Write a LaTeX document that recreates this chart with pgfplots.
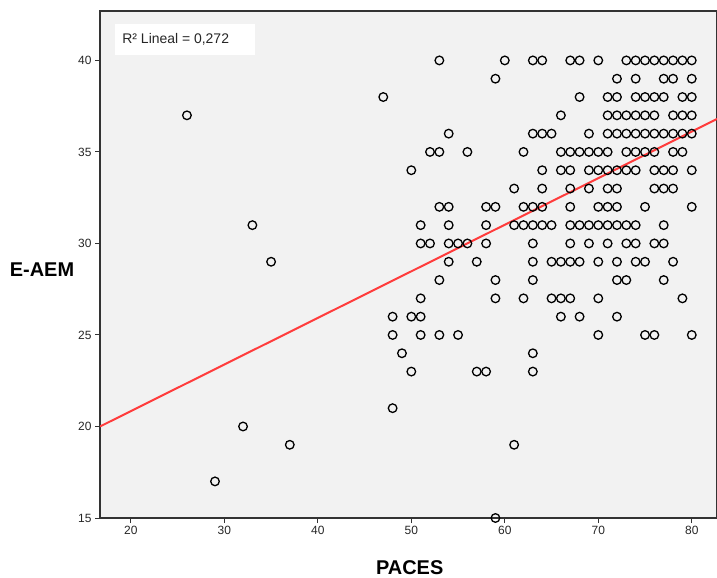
\documentclass[border=0pt]{standalone}
\usepackage{fontspec}
\setmainfont{Liberation Sans}
\usepackage{pgfplots}
\pgfplotsset{compat=1.18}

\definecolor{panelbg}{HTML}{F2F2F2}
\definecolor{fitred}{HTML}{FF3C3C}

\begin{document}
\begin{tikzpicture}
\begin{axis}[
    scale only axis,
    width=617bp, height=507bp,
    xmin=16.7, xmax=82.7,
    ymin=15, ymax=42.7,
    axis background/.style={fill=panelbg},
    axis line style={draw=black!80, line width=1.2bp},
    xtick={20,30,...,80},
    ytick={15,20,...,40},
    tick align=outside,
    tick pos=left,
    major tick length=5bp,
    tick style={draw=black!80, line width=1bp},
    ticklabel style={font=\fontsize{12}{14}\selectfont, text=black!85},
    /pgf/number format/assume math mode=true,
    xlabel={PACES},
    ylabel={E-AEM},
    label style={font=\fontsize{20}{22}\selectfont\bfseries},
    xlabel style={at={(axis description cs:0.502,-0.097)}, anchor=center},
    ylabel style={at={(axis description cs:-0.094,0.489)}, anchor=center, rotate=-90},
]
% fit line
\addplot[fitred, line width=2bp] coordinates {(16.7,20.0) (82.7,36.8)};

% one line per E-AEM value
\addplot[only marks, mark=o, mark size=4.3bp, draw=black, line width=1.3bp] coordinates {
 (53,40) (60,40) (63,40) (64,40) (67,40) (68,40) (70,40) (73,40) (74,40) (75,40) (76,40) (77,40) (78,40) (79,40) (80,40)
 (59,39) (72,39) (74,39) (77,39) (78,39) (80,39)
 (47,38) (68,38) (71,38) (72,38) (74,38) (75,38) (76,38) (77,38) (79,38) (80,38)
 (26,37) (66,37) (71,37) (72,37) (73,37) (74,37) (75,37) (76,37) (78,37) (79,37) (80,37)
 (54,36) (63,36) (64,36) (65,36) (69,36) (71,36) (72,36) (73,36) (74,36) (75,36) (76,36) (77,36) (78,36) (79,36) (80,36)
 (52,35) (53,35) (56,35) (62,35) (66,35) (67,35) (68,35) (69,35) (70,35) (71,35) (73,35) (74,35) (75,35) (76,35) (78,35) (79,35)
 (50,34) (64,34) (66,34) (67,34) (69,34) (70,34) (71,34) (72,34) (73,34) (74,34) (76,34) (77,34) (78,34) (80,34)
 (61,33) (64,33) (67,33) (69,33) (71,33) (72,33) (76,33) (77,33) (78,33)
 (53,32) (54,32) (58,32) (59,32) (62,32) (63,32) (64,32) (67,32) (70,32) (71,32) (72,32) (75,32) (80,32)
 (33,31) (51,31) (54,31) (58,31) (61,31) (62,31) (63,31) (64,31) (65,31) (67,31) (68,31) (69,31) (70,31) (71,31) (72,31) (73,31) (74,31) (77,31)
 (51,30) (52,30) (54,30) (55,30) (56,30) (58,30) (63,30) (67,30) (69,30) (71,30) (73,30) (74,30) (76,30) (77,30)
 (35,29) (54,29) (57,29) (63,29) (65,29) (66,29) (67,29) (68,29) (70,29) (72,29) (74,29) (75,29) (78,29)
 (53,28) (59,28) (63,28) (72,28) (73,28) (77,28)
 (51,27) (59,27) (62,27) (65,27) (66,27) (67,27) (70,27) (79,27)
 (48,26) (50,26) (51,26) (66,26) (68,26) (72,26)
 (48,25) (51,25) (53,25) (55,25) (70,25) (75,25) (76,25) (80,25)
 (49,24) (63,24)
 (50,23) (57,23) (58,23) (63,23)
 (48,21)
 (32,20)
 (37,19) (61,19)
 (29,17)
 (59,15)
};

% R2 box
\fill[white] (axis description cs:0.024,0.913) rectangle (axis description cs:0.251,0.974);
\node[anchor=west, font=\fontsize{14}{16}\selectfont, text=black!85, inner sep=0pt]
    at (axis description cs:0.036,0.9435) {R² Lineal = 0,272};

\coordinate (bbl) at (axis description cs:-0.1621,-0.1183);
\coordinate (btr) at (axis description cs:1.0,1.0217);
\end{axis}
\pgfresetboundingbox
\useasboundingbox (bbl) rectangle (btr);
\end{tikzpicture}
\end{document}
